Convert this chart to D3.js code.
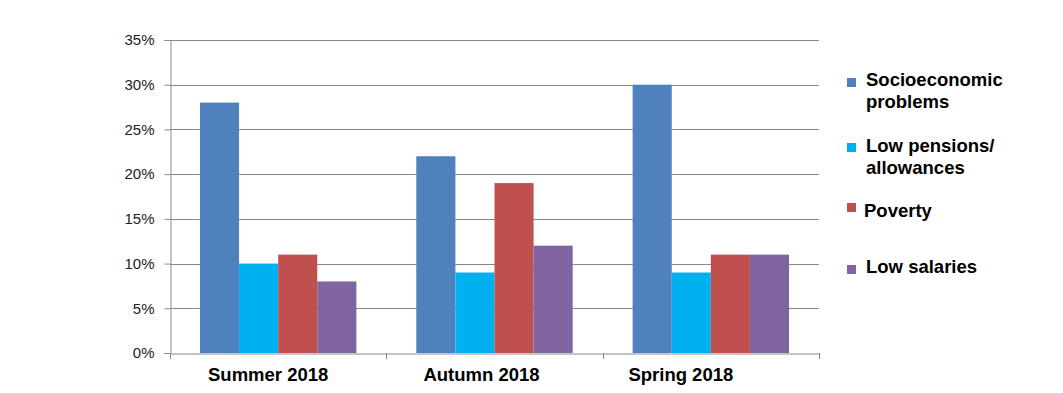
<!DOCTYPE html>
<html><head><meta charset="utf-8">
<script src="https://cdnjs.cloudflare.com/ajax/libs/d3/7.8.5/d3.min.js"></script>
<style>body{margin:0;background:#fff}</style>
</head><body><svg id="c" width="1063" height="393"></svg>
<script>
const categories = ["Summer 2018", "Autumn 2018", "Spring 2018"];
const seriesNames = ["Socioeconomic problems", "Low pensions/ allowances", "Poverty", "Low salaries"];
const socioeconomic = [28, 22, 30];
const lowPensions = [10, 9, 9];
const poverty = [11, 19, 11];
const lowSalaries = [8, 12, 11];
const yTicks = [0, 5, 10, 15, 20, 25, 30, 35];
const legendLines = [["Socioeconomic", "problems"], ["Low pensions/", "allowances"], ["Poverty"], ["Low salaries"]];
const colors = ["#4F81BD", "#00B0F0", "#C0504D", "#8064A2"];

(function () {
const series = [socioeconomic, lowPensions, poverty, lowSalaries];
const svg = d3.select("#c");
const pLeft = 170, pRight = 819, pTop = 40, pBottom = 353;
const labelShift = [-10, -13, -30];

const x = d3.scaleBand().domain(categories).range([pLeft, pRight]).paddingInner(0.277).paddingOuter(0.1385);
const xs = d3.scaleBand().domain(d3.range(4)).range([0, x.bandwidth()]);
const y = d3.scaleLinear().domain([0, 35]).range([pBottom, pTop]);

// grid
svg.append("g").selectAll("line").data(yTicks.filter(d => d > 0)).join("line")
  .attr("x1", pLeft).attr("x2", pRight).attr("y1", d => Math.round(y(d)) + 0.5).attr("y2", d => Math.round(y(d)) + 0.5)
  .attr("stroke", "#8a8a8a").attr("stroke-width", 1);

// y axis
const ya = svg.append("g").attr("transform", `translate(${pLeft + 0.5},0)`)
  .call(d3.axisLeft(y).tickValues(yTicks).tickSize(6).tickPadding(5).tickFormat(d => d + "%"));
ya.select(".domain").attr("stroke", "#8a8a8a");
ya.selectAll(".tick line").attr("stroke", "#8a8a8a");
ya.selectAll(".tick text").attr("font-family", "'Liberation Sans', Arial, sans-serif").attr("font-size", 15).attr("fill", "#222")
  .attr("x", -16);

// bars
categories.forEach((c, ci) => {
  svg.append("g").selectAll("rect").data(series.map((s, si) => ({si, v: s[ci]}))).join("rect")
    .attr("x", d => x(c) + xs(d.si)).attr("width", xs.bandwidth())
    .attr("y", d => y(d.v)).attr("height", d => y(0) - y(d.v))
    .attr("fill", d => colors[d.si]);
});

// x axis
const xa = svg.append("g").attr("transform", `translate(0,${pBottom + 0.5})`)
  .call(d3.axisBottom(x).tickSize(0).tickPadding(14));
xa.select(".domain").attr("stroke", "#8a8a8a");
xa.selectAll(".tick text").attr("font-family", "'Liberation Sans', Arial, sans-serif").attr("font-size", 18.5)
  .attr("font-weight", "bold").attr("fill", "#000").attr("dx", (d, i) => labelShift[i]);
// category separator ticks
svg.append("g").selectAll("line").data(d3.range(categories.length + 1)).join("line")
  .attr("x1", i => Math.round(pLeft + i * (pRight - pLeft) / 3) + 0.5).attr("x2", i => Math.round(pLeft + i * (pRight - pLeft) / 3) + 0.5)
  .attr("y1", pBottom).attr("y2", pBottom + 6).attr("stroke", "#8a8a8a");

// legend
const legY = [78, 143, 203, 265];
const lg = svg.append("g");
legendLines.forEach((lines, i) => {
  lg.append("rect").attr("x", 847).attr("y", legY[i]).attr("width", 9).attr("height", 9).attr("fill", colors[i]);
  const baseY = [86, 152, 217, 273][i];
  lines.forEach((t, j) => {
    lg.append("text").attr("x", i === 2 ? 864 : 866).attr("y", baseY + j * 21.5)
      .attr("font-family", "'Liberation Sans', Arial, sans-serif").attr("font-size", 18.5)
      .attr("font-weight", "bold").attr("fill", "#000").text(t);
  });
});
})();
</script></body></html>
